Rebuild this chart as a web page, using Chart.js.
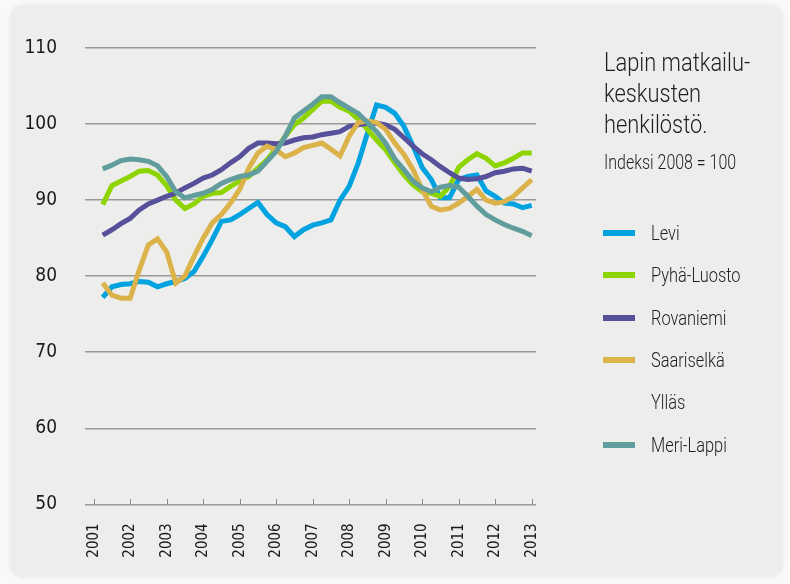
<!DOCTYPE html>
<html lang="fi">
<head>
<meta charset="utf-8">
<title>Lapin matkailukeskusten henkilöstö</title>
<script src="https://cdn.jsdelivr.net/npm/chart.js@4.4.1/dist/chart.umd.min.js"></script>
<style>
  html, body { margin: 0; padding: 0; }
  body {
    width: 790px; height: 584px; position: relative; overflow: hidden;
    background: #f9f9f7;
    font-family: Roboto, 'Liberation Sans', sans-serif;
    font-weight: 300;
    color: #1e1e1e;
  }
  .panel {
    position: absolute; left: 10px; top: 5px; width: 773px; height: 572px;
    background: #ededeb; border-radius: 13px;
    box-shadow: 0 0 5px rgba(0, 0, 0, 0.06);
  }
  canvas { position: absolute; left: 0; top: 0; }
  .narrow { display: inline-block; transform-origin: 0 50%; white-space: nowrap; }
  .title { position: absolute; left: 604px; top: 47px; font-size: 26px; line-height: 31px; }
  .title .narrow { transform: scaleX(0.84); }
  .sub { position: absolute; left: 604px; top: 150px; font-size: 21px; line-height: 24px; }
  .sub .narrow { transform: scaleX(0.76); }
  #legend { position: absolute; left: 603px; top: 212px; }
  .item { display: flex; align-items: center; height: 42.3px; font-size: 21px; }
  .item .narrow { transform: scaleX(0.78); }
  .swatch { width: 32px; height: 6px; margin-right: 16px; flex: none; }
</style>
</head>
<body>
<div class="panel"></div>
<canvas id="chart" width="790" height="584"></canvas>
<div class="title"><span class="narrow">Lapin matkailu-</span><br><span class="narrow">keskusten</span><br><span class="narrow">henkilöstö.</span></div>
<div class="sub"><span class="narrow">Indeksi 2008 = 100</span></div>
<div id="legend"></div>
<script>
// quarterly index values, 2001 Q1 .. 2012 Q4 (Indeksi 2008 = 100)
const years = [2001, 2002, 2003, 2004, 2005, 2006, 2007, 2008, 2009, 2010, 2011, 2012, 2013];
const yTicks = [50, 60, 70, 80, 90, 100, 110];

const levi = [77.2, 78.6, 78.9, 79.0, 79.3, 79.2, 78.6, 79.0, 79.3, 79.7, 80.6, 82.6,
  84.8, 87.2, 87.4, 88.1, 88.9, 89.7, 88.1, 87.0, 86.5, 85.2, 86.1, 86.7,
  87.0, 87.4, 90.0, 91.8, 94.9, 98.8, 102.5, 102.2, 101.4, 99.7, 97.1, 94.3,
  92.7, 90.3, 90.3, 92.7, 93.1, 93.3, 91.2, 90.5, 89.6, 89.5, 89.0, 89.3];
const pyhaLuosto = [89.4, 91.9, 92.5, 93.1, 93.8, 93.9, 93.3, 91.9, 90.0, 88.9, 89.5, 90.5,
  90.9, 91.0, 91.8, 92.5, 93.1, 94.2, 95.3, 96.8, 98.4, 99.9, 100.8, 101.9,
  103.0, 103.0, 102.2, 101.7, 100.6, 99.3, 97.9, 96.6, 94.9, 93.3, 92.0, 91.1,
  90.9, 90.5, 91.8, 94.3, 95.3, 96.1, 95.5, 94.5, 94.9, 95.5, 96.2, 96.2];
const rovaniemi = [85.4, 86.1, 86.9, 87.6, 88.7, 89.5, 90.0, 90.5, 90.9, 91.6, 92.2, 92.9,
  93.3, 94.0, 94.9, 95.7, 96.8, 97.5, 97.5, 97.4, 97.5, 97.9, 98.2, 98.3,
  98.6, 98.8, 99.0, 99.7, 99.9, 100.1, 100.1, 99.9, 99.3, 98.2, 97.1, 96.1,
  95.3, 94.4, 93.6, 92.9, 92.7, 92.8, 93.1, 93.6, 93.8, 94.1, 94.2, 93.8];
const saariselka = [79.1, 77.5, 77.1, 77.1, 80.8, 84.1, 84.9, 83.2, 79.1, 80.0, 82.6, 85.0,
  87.0, 88.1, 89.6, 91.4, 94.2, 96.2, 97.1, 96.6, 95.7, 96.2, 96.9, 97.2,
  97.5, 96.7, 95.8, 98.4, 100.2, 100.4, 100.2, 99.3, 97.5, 96.0, 94.0, 91.4,
  89.2, 88.7, 88.9, 89.6, 90.5, 91.4, 90.0, 89.6, 89.8, 90.5, 91.6, 92.7];
const yllas = []; // no line drawn in the source
const meriLappi = [94.1, 94.6, 95.2, 95.4, 95.3, 95.1, 94.5, 93.1, 91.1, 90.3, 90.6, 90.9,
  91.4, 92.2, 92.7, 93.1, 93.3, 93.8, 95.1, 96.4, 98.4, 100.8, 101.7, 102.6,
  103.6, 103.6, 102.8, 102.1, 101.4, 100.2, 99.0, 97.5, 95.4, 94.0, 92.5, 91.6,
  91.1, 91.7, 91.9, 91.7, 90.5, 89.2, 88.1, 87.4, 86.8, 86.3, 85.9, 85.3];

const names = ['Levi', 'Pyhä-Luosto', 'Rovaniemi', 'Saariselkä', 'Ylläs', 'Meri-Lappi'];
const colors = ['#00a3e0', '#8ed400', '#57509a', '#dcb24a', 'rgba(0,0,0,0)', '#629d9d'];
const series = [levi, pyhaLuosto, rovaniemi, saariselka, yllas, meriLappi];

// each value sits at the end of its quarter
const quarterX = i => years[0] + (i + 1) / 4;

const font = 'DejaVu Sans Condensed, sans-serif';
const textColor = '#1a1a1a';

// small upward tick marks on the base line, one per year
const yearTicks = {
  id: 'yearTicks',
  afterDraw(chart) {
    const { ctx, scales: { x, y } } = chart;
    const base = Math.round(y.getPixelForValue(yTicks[0]));
    ctx.save();
    ctx.strokeStyle = '#8a8a8a';
    ctx.lineWidth = 1;
    x.ticks.forEach(t => {
      const px = Math.round(x.getPixelForValue(t.value)) + 0.5;
      ctx.beginPath();
      ctx.moveTo(px, base);
      ctx.lineTo(px, base - 5);
      ctx.stroke();
    });
    ctx.restore();
  }
};

new Chart(document.getElementById('chart'), {
  type: 'line',
  data: {
    datasets: series.map((vals, k) => ({
      label: names[k],
      data: vals.map((v, i) => ({ x: quarterX(i), y: v })),
      borderColor: colors[k],
      borderWidth: 5,
      pointRadius: 0,
      tension: 0,
      fill: false,
      order: series.length - k
    }))
  },
  options: {
    responsive: false,
    animation: false,
    layout: { padding: { left: 10, top: 48, right: 254, bottom: 20 } },
    plugins: { legend: { display: false }, tooltip: { enabled: false } },
    scales: {
      x: {
        type: 'linear',
        min: 2000.764,
        max: 2013.118,
        afterBuildTicks: s => { s.ticks = years.map(v => ({ value: v })); },
        afterFit: s => { s.height = 59.7; },
        grid: { display: false },
        border: { display: false },
        ticks: {
          minRotation: 90,
          maxRotation: 90,
          autoSkip: false,
          padding: 11,
          color: textColor,
          font: { family: font, size: 15 },
          callback: v => String(v)
        }
      },
      y: {
        min: 50,
        max: 110,
        afterBuildTicks: s => { s.ticks = yTicks.map(v => ({ value: v })); },
        afterFit: s => { s.width = 75; },
        grid: { color: '#9a9a9a', lineWidth: 1.5, drawTicks: false },
        border: { display: false },
        ticks: {
          padding: 28,
          color: textColor,
          font: { family: font, size: 19 }
        }
      }
    }
  },
  plugins: [yearTicks]
});

// legend on the right, built from the same names and colours
const legend = document.getElementById('legend');
names.forEach((n, k) => {
  const row = document.createElement('div');
  row.className = 'item';
  row.innerHTML = '<span class="swatch" style="background:' + colors[k] + '"></span><span class="narrow">' + n + '</span>';
  legend.appendChild(row);
});
</script>
</body>
</html>
